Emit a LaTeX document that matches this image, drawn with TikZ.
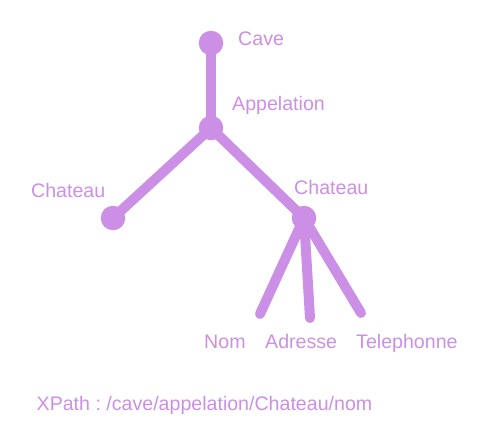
\documentclass[tikz,border=0pt]{standalone}
\usepackage{fontspec}
\setmainfont{Liberation Sans}
\frenchspacing
\definecolor{lilac}{RGB}{204,143,230}
\begin{document}
\begin{tikzpicture}[x=1pt,y=-1pt,
  dot/.style={circle,fill=lilac,minimum size=24.5pt,inner sep=0pt},
  edge/.style={draw=lilac,line width=10pt,line cap=round},
  lbl/.style={text=lilac,anchor=base west,inner sep=0pt,font=\fontsize{19.6}{23}\selectfont}]
\useasboundingbox (0,0) rectangle (478,440);
\coordinate (nomEnd) at (260,314);
\coordinate (adrEnd) at (310,318);
\coordinate (telEnd) at (361,313);
\node[dot] (cave) at (211,43) {};
\node[dot] (app) at (211,128) {};
\node[dot] (chl) at (113,218) {};
\node[dot] (chr) at (304,218) {};
\draw[edge] (cave.center) -- (app.center);
\draw[edge] (app.center) -- (chl.center);
\draw[edge] (app.center) -- (chr.center);
\draw[edge] (chr.center) -- (nomEnd);
\draw[edge] (chr.center) -- (adrEnd);
\draw[edge] (chr.center) -- (telEnd);
\node[lbl] (lcave) at (238,45) {Cave};
\node[lbl] (lapp) at (232,110) {Appelation};
\node[lbl] (lchl) at (31,197) {Chateau};
\node[lbl] (lchr) at (294,194) {Chateau};
\node[lbl] (lnom) at (204,348) {Nom};
\node[lbl] (ladr) at (265,348) {Adresse};
\node[lbl] (ltel) at (356,348) {Telephonne};
\node[lbl] (lxp) at (36.5,410) {XPath : /cave/appelation/Chateau/nom};
\end{tikzpicture}
\end{document}
